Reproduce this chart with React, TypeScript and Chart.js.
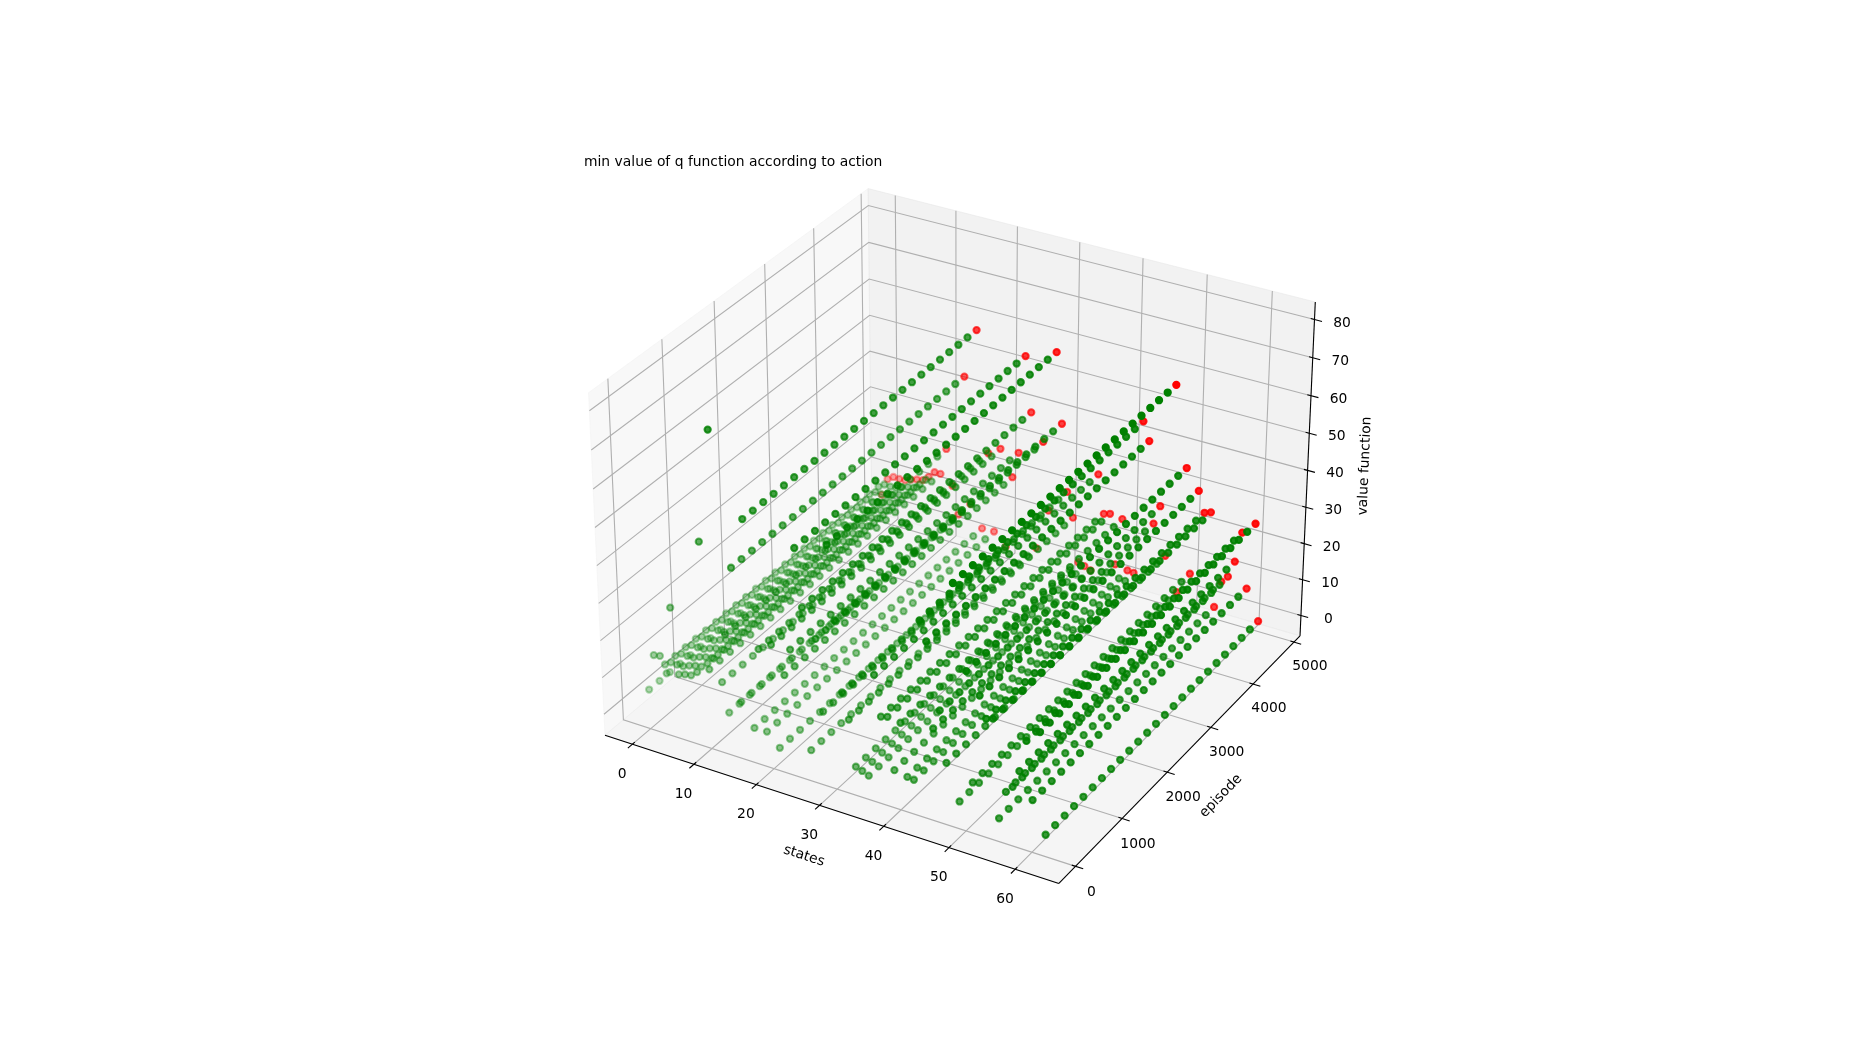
import React, { useEffect, useRef } from "react";
import { Chart, registerables } from "chart.js";
Chart.register(...registerables);

const xTicks = [0, 10, 20, 30, 40, 50, 60];
const yTicks = [0, 1000, 2000, 3000, 4000, 5000];
const zTicks = [0, 10, 20, 30, 40, 50, 60, 70, 80];
const episodes = [0,200,400,600,800,1000,1200,1400,1600,1800,2000,2200,2400,2600,2800,3000,3200,3400,3600,3800,4000,4200,4400,4600,4800];
const stateValues = [5.0,10.0,11.1,11.0,11.1,11.8,12.3,12.6,14.0,15.8,15.8,23.3,13.4,5.7,44.8,9.7,58.4,3.7,25.4,3.8,27.6,0.5,20.6,27.9,54.9,40.0,2.6,32.8,14.1,58.2,39.2,20.8,14.1,2.0,1.4,0.7,28.1,17.6,18.1,4.4,17.6,3.7,3.5,45.9,41.0,18.8,24.1,10.8,58.0,1.6,36.5,7.8,31.2,25.7,26.3,0.5,8.1,10.0,14.7,23.2,8.2,26.6,0.1];
const firstValues: Record<number, number> = { 11: 78.8, 9: 49.1, 4: 29.2, 1: 14.9, 2: 15.2 };

const xLim = [-3.1, 65.1];
const yLim = [-240, 5040];
const zLim = [-3.94, 82.74];
const A = 1.1905, AZ = 0.8929;
function pane(l: number[]) { const e = (l[1]-l[0])/48; return [l[0]-e, l[1]+e]; }
const xP = pane(xLim), yP = pane(yLim), zP = pane(zLim);
const U = [0.8660254, 0.5, 0], N = [0.4330127, -0.75, 0.5], V = [-0.25, 0.4330127, 0.8660254];
function project(x: number, y: number, z: number) {
  const a = (x-xP[0])/(xP[1]-xP[0])*A - A/2, b = (y-yP[0])/(yP[1]-yP[0])*A - A/2, c = (z-zP[0])/(zP[1]-zP[0])*AZ - AZ/2;
  const xv = U[0]*a+U[1]*b, yv = V[0]*a+V[1]*b+V[2]*c, zv = N[0]*a+N[1]*b+N[2]*c-10;
  return { x: xv/-zv, y: yv/-zv, d: 10/zv };
}
function seg(pts: number[][], color: string, w: number, fill?: string) {
  return { type: "line", data: pts.map(p => { const q = project(p[0],p[1],p[2]); return {x:q.x,y:q.y}; }), borderColor: color, borderWidth: w, pointRadius: 0, fill: fill ? "shape" : false, backgroundColor: fill, tension: 0, clip: false };
}
const toPx = (q: {x:number,y:number}) => [544+(q.x+0.095)/0.185*808.5, 934.5-(q.y+0.095)/0.185*808.5];

export default function App() {
  const ref = useRef<HTMLCanvasElement>(null);
  useEffect(() => {
    document.body.style.margin = "0";
    const ds: any[] = [];
    ds.push(seg([[xP[0],yP[0],zP[0]],[xP[0],yP[1],zP[0]],[xP[0],yP[1],zP[1]],[xP[0],yP[0],zP[1]],[xP[0],yP[0],zP[0]]], "rgba(242,242,242,0.5)", 1, "rgba(242,242,242,0.5)"));
    ds.push(seg([[xP[0],yP[1],zP[0]],[xP[1],yP[1],zP[0]],[xP[1],yP[1],zP[1]],[xP[0],yP[1],zP[1]],[xP[0],yP[1],zP[0]]], "rgba(230,230,230,0.5)", 1, "rgba(230,230,230,0.5)"));
    ds.push(seg([[xP[0],yP[0],zP[0]],[xP[1],yP[0],zP[0]],[xP[1],yP[1],zP[0]],[xP[0],yP[1],zP[0]],[xP[0],yP[0],zP[0]]], "rgba(236,236,236,0.5)", 1, "rgba(236,236,236,0.5)"));
    const dx = (xLim[1]-xLim[0])/12, dy = (yLim[1]-yLim[0])/12;
    for (const t of xTicks) { ds.push(seg([[t,yP[0],zP[0]],[t,yP[1],zP[0]],[t,yP[1],zP[1]]], "#b0b0b0", 1.1)); ds.push(seg([[t,yP[0]+dy*0.1,zP[0]],[t,yP[0]-dy*0.2,zP[0]]], "#000", 1.1)); }
    for (const t of yTicks) { ds.push(seg([[xP[1],t,zP[0]],[xP[0],t,zP[0]],[xP[0],t,zP[1]]], "#b0b0b0", 1.1)); ds.push(seg([[xP[1]-dx*0.1,t,zP[0]],[xP[1]+dx*0.2,t,zP[0]]], "#000", 1.1)); }
    for (const t of zTicks) { ds.push(seg([[xP[0],yP[0],t],[xP[0],yP[1],t],[xP[1],yP[1],t]], "#b0b0b0", 1.1)); ds.push(seg([[xP[1]-dx*0.1,yP[1],t],[xP[1]+dx*0.2,yP[1],t]], "#000", 1.1)); }
    ds.push(seg([[xP[0],yP[0],zP[0]],[xP[1],yP[0],zP[0]]], "#000", 1.1));
    ds.push(seg([[xP[1],yP[0],zP[0]],[xP[1],yP[1],zP[0]]], "#000", 1.1));
    ds.push(seg([[xP[1],yP[1],zP[0]],[xP[1],yP[1],zP[1]]], "#000", 1.1));

    // one scatter per episode, each with its own depth shading, far episodes first
    const groups = episodes.map((e, i) => {
      const pts = stateValues.map((v, s) => project(s, e, i === 0 && firstValues[s] !== undefined ? firstValues[s] : v));
      const ds0 = pts.map(p => p.d);
      const dmin = Math.min(...ds0), dmax = Math.max(...ds0);
      pts.sort((a, b) => b.d - a.d);
      const rgb = i === episodes.length - 1 ? "255,0,0" : "0,128,0";
      const col = pts.map(p => `rgba(${rgb},${1 - 0.7*(p.d-dmin)/(dmax-dmin)})`);
      return { dmin, set: { type: "scatter", data: pts.map(p => ({x:p.x,y:p.y})), backgroundColor: col, borderColor: col, borderWidth: 2.08, pointRadius: 3.1, clip: false } };
    });
    groups.sort((a, b) => b.dmin - a.dmin).forEach(g => ds.push(g.set));
    ds.reverse();

    const labels = { id: "labels", afterDraw(c: any) {
      const g = c.ctx; g.save(); g.font = "13.89px 'DejaVu Sans'"; g.fillStyle = "#000"; g.textAlign = "center"; g.textBaseline = "middle";
      for (const t of xTicks) { const p = toPx(project(t, yP[0], zP[0])); g.fillText(String(t), p[0]-10.5, p[1]+30); }
      for (const t of yTicks) { const p = toPx(project(xP[1], t, zP[0])); g.fillText(String(t), p[0]+15.5, p[1]+24+(1-t/5000)*2.5); }
      for (const t of zTicks) { const p = toPx(project(xP[1], yP[1], t)); g.fillText(String(t), p[0]+27, p[1]+3.5); }
      const rot = (s: string, x: number, y: number, a: number) => { g.save(); g.translate(x, y); g.rotate(a*Math.PI/180); g.fillText(s, 0, 0); g.restore(); };
      rot("states", 804, 856, 18);
      rot("episode", 1221, 796, -46);
      rot("value function", 1365, 466, -87.5);
      g.textAlign = "left"; g.textBaseline = "alphabetic"; g.fillText("min value of q function according to action", 584, 166);
      g.restore();
    }};
    const chart = new Chart(ref.current!, { type: "scatter", data: { datasets: ds }, plugins: [labels], options: { responsive: false, animation: false, layout: { padding: { left: 544, right: 498, top: 126, bottom: 115.5 } }, plugins: { legend: { display: false }, tooltip: { enabled: false } }, scales: { x: { display: false, min: -0.095, max: 0.09 }, y: { display: false, min: -0.095, max: 0.09 } } } } as any);
    return () => chart.destroy();
  }, []);
  return <canvas ref={ref} width={1850} height={1050} style={{ display: "block" }} />;
}
